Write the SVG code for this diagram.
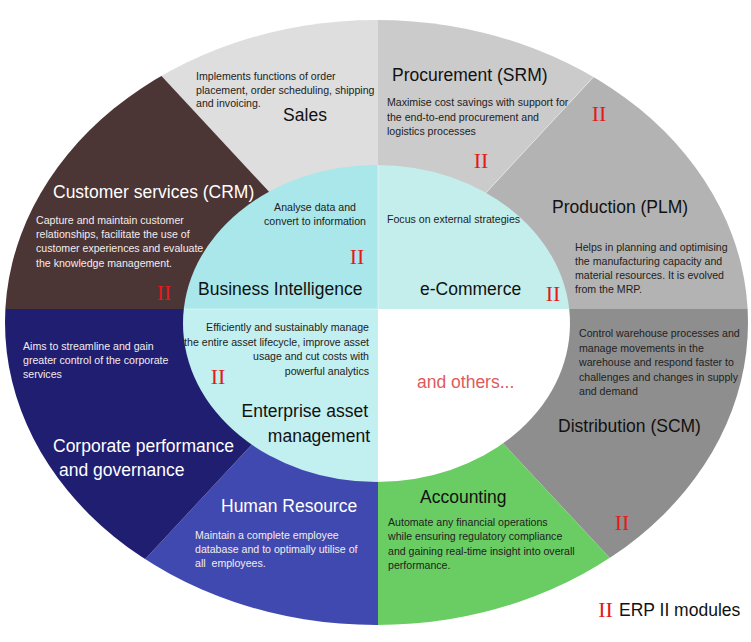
<svg xmlns="http://www.w3.org/2000/svg" width="751" height="642" viewBox="0 0 751 642">
<style>
text{font-family:"Liberation Sans",Arial,sans-serif}
.t{font-size:17.5px;fill:#111}
.tw{font-size:17.5px;fill:#fff}
.d{font-size:10.6px;fill:#222}
.dw{font-size:10.6px;fill:#f4ecec}
.ii{font-family:"Liberation Serif","Times New Roman",serif;font-size:22px;fill:#e31a1a;text-anchor:middle}
.sep{stroke:#fff;stroke-opacity:0.45;stroke-width:1;fill:none}
</style>
<defs>
<clipPath id="outer"><ellipse cx="376.5" cy="322.5" rx="371.5" ry="302.5"/></clipPath>
<clipPath id="inner"><ellipse cx="376.5" cy="323.5" rx="193.5" ry="158.5"/></clipPath>
</defs>
<rect width="751" height="642" fill="#fff"/>
<g clip-path="url(#outer)">
<g id="sales"><polygon points="378,309 -2,-100 378,-100" fill="#dedede"/></g>
<g id="procurement"><polygon points="378,309 378,-100 758,-100" fill="#cbcbcb"/></g>
<g id="production"><polygon points="378,309 758,-100 800,-100 800,309" fill="#b3b3b3"/></g>
<g id="distribution"><polygon points="378,309 800,309 800,700 742,700" fill="#8e8e8e"/></g>
<g id="accounting"><polygon points="378,309 742,700 378,700" fill="#69cd63"/></g>
<g id="human-resource"><polygon points="378,309 378,700 14,700" fill="#4049b0"/></g>
<g id="corporate"><polygon points="378,309 14,700 -50,700 -50,309" fill="#1f1e70"/></g>
<g id="crm"><polygon points="378,309 -50,309 -50,-100 -2,-100" fill="#4b3535"/></g>
<line class="sep" x1="378" y1="309" x2="758" y2="-100"/>
</g>
<g clip-path="url(#inner)">
<g id="bi-bg"><rect x="0" y="0" width="378" height="309" fill="#aae7ea"/></g>
<g id="ecommerce-bg"><rect x="378" y="0" width="400" height="309" fill="#c4eeec"/></g>
<g id="eam-bg"><rect x="0" y="309" width="378" height="400" fill="#c2efef"/></g>
<g id="others-bg"><rect x="378" y="309" width="400" height="400" fill="#fff"/></g>
<line class="sep" x1="0" y1="309" x2="378" y2="309"/>
<line class="sep" x1="378" y1="0" x2="378" y2="309"/>
</g>

<g id="sales-text">
<text class="d" x="196" y="80">Implements functions of order</text>
<text class="d" x="196" y="94">placement, order scheduling, shipping</text>
<text class="d" x="196" y="107">and invoicing.</text>
<text class="t" x="305" y="121" text-anchor="middle">Sales</text>
</g>
<g id="procurement-text">
<text class="t" x="392" y="81">Procurement (SRM)</text>
<text class="d" x="387" y="106">Maximise cost savings with support for</text>
<text class="d" x="387" y="121">the end-to-end procurement and</text>
<text class="d" x="387" y="135">logistics processes</text>
<text class="ii" x="481" y="168">II</text>
</g>
<g id="production-text">
<text class="ii" x="599" y="121">II</text>
<text class="t" x="552" y="213">Production (PLM)</text>
<text class="d" x="575" y="251">Helps in planning and optimising</text>
<text class="d" x="575" y="265">the manufacturing capacity and</text>
<text class="d" x="575" y="279">material resources. It is evolved</text>
<text class="d" x="575" y="293">from the MRP.</text>
</g>
<g id="crm-text">
<text class="tw" x="53" y="198">Customer services (CRM)</text>
<text class="dw" x="36" y="224">Capture and maintain customer</text>
<text class="dw" x="36" y="238">relationships, facilitate the use of</text>
<text class="dw" x="36" y="252">customer experiences and evaluate</text>
<text class="dw" x="36" y="267">the knowledge management.</text>
<text class="ii" x="164" y="300">II</text>
</g>
<g id="bi-text">
<text class="d" x="315" y="211" text-anchor="middle">Analyse data and</text>
<text class="d" x="315" y="225" text-anchor="middle">convert to information</text>
<text class="ii" x="357" y="264">II</text>
<text class="t" x="198" y="295">Business Intelligence</text>
</g>
<g id="ecommerce-text">
<text class="d" x="387" y="223">Focus on external strategies</text>
<text class="t" x="420" y="295">e-Commerce</text>
<text class="ii" x="553" y="301">II</text>
</g>
<g id="eam-text">
<text class="d" x="369" y="331" text-anchor="end">Efficiently and sustainably manage</text>
<text class="d" x="369" y="346" text-anchor="end">the entire asset lifecycle, improve asset</text>
<text class="d" x="369" y="360" text-anchor="end">usage and cut costs with</text>
<text class="d" x="369" y="375" text-anchor="end">powerful analytics</text>
<text class="ii" x="218" y="384">II</text>
<text class="t" x="368" y="417" text-anchor="end">Enterprise asset</text>
<text class="t" x="370" y="442" text-anchor="end">management</text>
</g>
<g id="others-text">
<text class="t" x="417" y="388" style="fill:#e05a5a">and others...</text>
</g>
<g id="distribution-text">
<text class="d" x="579" y="337">Control warehouse processes and</text>
<text class="d" x="579" y="352">manage movements in the</text>
<text class="d" x="579" y="366">warehouse and respond faster to</text>
<text class="d" x="579" y="381">challenges and changes in supply</text>
<text class="d" x="579" y="395">and demand</text>
<text class="t" x="558" y="432">Distribution (SCM)</text>
<text class="ii" x="622" y="530">II</text>
</g>
<g id="corporate-text">
<text class="dw" x="23" y="350">Aims to streamline and gain</text>
<text class="dw" x="23" y="364">greater control of the corporate</text>
<text class="dw" x="23" y="378">services</text>
<text class="tw" x="53" y="452">Corporate performance</text>
<text class="tw" x="59" y="476">and governance</text>
</g>
<g id="hr-text">
<text class="tw" x="221" y="512">Human Resource</text>
<text class="dw" x="195" y="539">Maintain a complete employee</text>
<text class="dw" x="195" y="553">database and to optimally utilise of</text>
<text class="dw" x="195" y="567">all&#160; employees.</text>
</g>
<g id="accounting-text">
<text class="t" x="420" y="503">Accounting</text>
<text class="d" x="388" y="526">Automate any financial operations</text>
<text class="d" x="388" y="540">while ensuring regulatory compliance</text>
<text class="d" x="388" y="555">and gaining real-time insight into overall</text>
<text class="d" x="388" y="569">performance.</text>
</g>
<g id="legend">
<text class="ii" x="605.5" y="617">II</text>
<text class="t" x="619" y="616">ERP II modules</text>
</g>
</svg>
